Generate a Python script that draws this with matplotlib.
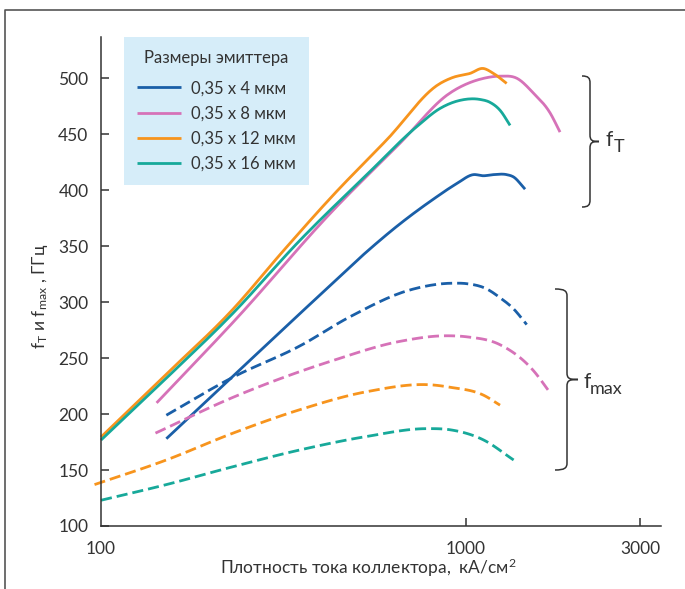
import matplotlib
matplotlib.use("Agg")
import matplotlib.pyplot as plt
from matplotlib.path import Path
from matplotlib.patches import PathPatch
from matplotlib.lines import Line2D
import numpy as np

plt.rcParams['font.family'] = ['Lato', 'Noto Sans', 'DejaVu Sans']
plt.rcParams['mathtext.fontset'] = 'custom'
plt.rcParams['mathtext.rm'] = 'Lato'
plt.rcParams['mathtext.it'] = 'Lato'

TXT = "#333333"

# --- данные ---
labels = ['0,35 x 4 мкм', '0,35 x 8 мкм', '0,35 x 12 мкм', '0,35 x 16 мкм']
colors = ['#1a5fa8', '#d672b8', '#f7941d', '#17a99a']

# f_T (сплошные)
ft4_x = [151, 415, 534, 659, 813, 943, 1047, 1115, 1188, 1292, 1348, 1451]
ft4_y = [178, 312, 345, 370, 392, 406, 414, 413, 414, 414, 412, 401]
ft8_x = [142, 236, 432, 659, 904, 1115, 1239, 1380, 1528, 1700, 1809]
ft8_y = [210, 286, 382, 442, 487, 500, 502, 500, 487, 469, 452]
ft12_x = [100, 152, 230, 315, 432, 608, 849, 921, 1026, 1113, 1188, 1292]
ft12_y = [179.5, 236.6, 293.8, 345.5, 395.5, 445.5, 495.5, 500.9, 504.5, 508.9, 504.5, 495.5]
ft16_x = [100, 152, 230, 351, 536, 734, 849, 963, 1092, 1163, 1240, 1320]
ft16_y = [176.8, 233, 290.2, 355.4, 414.3, 457.1, 473.2, 480.4, 481.2, 478.6, 471.4, 458]

# f_max (пунктир)
fm4_x = [151, 230, 351, 481, 703, 923, 1008, 1137, 1239, 1350, 1466]
fm4_y = [199, 233, 261, 287, 311, 317, 316.5, 312, 304, 294, 280]
fm8_x = [141, 230, 433, 659, 885, 1008, 1239, 1528, 1700]
fm8_y = [183, 215, 248, 265, 270, 269, 262, 239, 219]
fm12_x = [96, 151, 230, 351, 534, 813, 904, 1115, 1239]
fm12_y = [137, 159, 183, 204, 220, 226, 224, 217, 208]
fm16_x = [100, 151, 230, 351, 534, 780, 904, 1115, 1350]
fm16_y = [123, 137, 153, 168, 180, 187, 186, 177, 159]

ft = [(ft4_x, ft4_y), (ft8_x, ft8_y), (ft12_x, ft12_y), (ft16_x, ft16_y)]
fm = [(fm4_x, fm4_y), (fm8_x, fm8_y), (fm12_x, fm12_y), (fm16_x, fm16_y)]

W, H = 685, 589
fig = plt.figure(figsize=(W / 100, H / 100), dpi=100)
ax = fig.add_axes([101 / W, 1 - 526 / H, 560 / W, 489 / H])


def smooth(xs, ys, n=15):
    # кубический Эрмит по lg(x), производные по трём точкам
    lx = np.log10(np.asarray(xs, float))
    y = np.asarray(ys, float)
    h = np.diff(lx)
    d = np.diff(y) / h
    m = np.empty_like(y)
    m[0], m[-1] = d[0], d[-1]
    m[1:-1] = (h[:-1] * d[1:] + h[1:] * d[:-1]) / (h[:-1] + h[1:])
    ox, oy = [], []
    for i in range(len(h)):
        t = np.linspace(0, 1, n, endpoint=False)
        h00 = 2 * t**3 - 3 * t**2 + 1
        h10 = t**3 - 2 * t**2 + t
        h01 = -2 * t**3 + 3 * t**2
        h11 = t**3 - t**2
        ox.extend(lx[i] + t * h[i])
        oy.extend(h00 * y[i] + h10 * h[i] * m[i] + h01 * y[i + 1] + h11 * h[i] * m[i + 1])
    ox.append(lx[-1])
    oy.append(y[-1])
    return 10 ** np.array(ox), np.array(oy)


for (xs, ys), c, lab in zip(ft, colors, labels):
    sx, sy = smooth(xs, ys)
    ax.plot(sx, sy, color=c, lw=2.0, label=lab, clip_on=False, solid_capstyle='butt')

for (xs, ys), c in zip(fm, colors):
    sx, sy = smooth(xs, ys)
    ax.plot(sx, sy, color=c, lw=2.0, ls=(0, (4, 1.8)), clip_on=False)

ax.set_xscale('log')
ax.set_xlim(100, 3420)
ax.set_ylim(100, 537)
ax.set_xticks([100, 1000, 3000])
ax.set_xticklabels(['100', '1000', '3000'])
ax.xaxis.set_minor_locator(matplotlib.ticker.NullLocator())
ax.set_yticks(np.arange(100, 501, 50))

for s in ['top', 'right']:
    ax.spines[s].set_visible(False)
for s in ['left', 'bottom']:
    ax.spines[s].set_color(TXT)
    ax.spines[s].set_linewidth(1.1)

ax.tick_params(axis='both', direction='in', length=6, width=1.1, color=TXT,
               labelsize=12.5, labelcolor=TXT)
ax.tick_params(axis='y', pad=9)
ax.tick_params(axis='x', pad=11)
ax.xaxis.get_major_ticks()[0].tick1line.set_visible(False)

leg = ax.legend(loc='upper left', bbox_to_anchor=(23 / 560, 1.0), borderaxespad=0,
                title='Размеры эмиттера', fontsize=12, title_fontsize=12,
                frameon=True, fancybox=False, facecolor='#d6edf9', edgecolor='none',
                framealpha=1, handlelength=2.6, handletextpad=0.6, labelspacing=0.55,
                borderpad=0.8)
for t in leg.get_texts():
    t.set_color(TXT)
leg.get_title().set_color(TXT)
leg._legend_box.sep = 10

# подписи осей
fig.text(40 / W, 1 - 296 / H, r'f$_{\rm T}$ и f$_{\rm max}$ , ГГц', rotation=90,
         ha='center', va='center', fontsize=12.5, color=TXT)
fig.text(368 / W, 1 - 568 / H, r'Плотность тока коллектора,  кА/см$^2$',
         ha='center', va='center', fontsize=12.5, color=TXT)


def brace(x0, top, bot, xv, tip):
    mid = (top + bot) / 2
    r = 7
    pts = [(x0, top), (x0 + (xv - x0) * 0.8, top), (xv, top + 2), (xv, top + r),
           (xv, mid - r),
           (xv, mid - 1), (xv + 2, mid), (tip, mid),
           (xv + 2, mid), (xv, mid + 1), (xv, mid + r),
           (xv, bot - r),
           (xv, bot - 2), (x0 + (xv - x0) * 0.8, bot), (x0, bot)]
    codes = [Path.MOVETO, Path.CURVE4, Path.CURVE4, Path.CURVE4, Path.LINETO,
             Path.CURVE4, Path.CURVE4, Path.CURVE4,
             Path.CURVE4, Path.CURVE4, Path.CURVE4, Path.LINETO,
             Path.CURVE4, Path.CURVE4, Path.CURVE4]
    pts = [(px / W, 1 - py / H) for px, py in pts]
    fig.add_artist(PathPatch(Path(pts, codes), transform=fig.transFigure,
                             fill=False, edgecolor=TXT, lw=1.1))


brace(582, 76, 207, 590, 599)
brace(555, 289, 470, 567, 578)
fig.text(606 / W, 1 - 146 / H, 'f', ha='left', va='baseline', fontsize=15, color=TXT)
fig.text(614 / W, 1 - 152 / H, 'T', ha='left', va='baseline', fontsize=13, color=TXT)
fig.text(583 / W, 1 - 388 / H, 'f', ha='left', va='baseline', fontsize=15, color=TXT)
fig.text(590 / W, 1 - 394 / H, 'max', ha='left', va='baseline', fontsize=13, color=TXT)

# рамка
fig.add_artist(Line2D([5 / W, 5 / W, 1], [0, 1 - 10 / H, 1 - 10 / H],
                      transform=fig.transFigure, color='#555555', lw=1.2))

fig.savefig('out.png', dpi=100)
